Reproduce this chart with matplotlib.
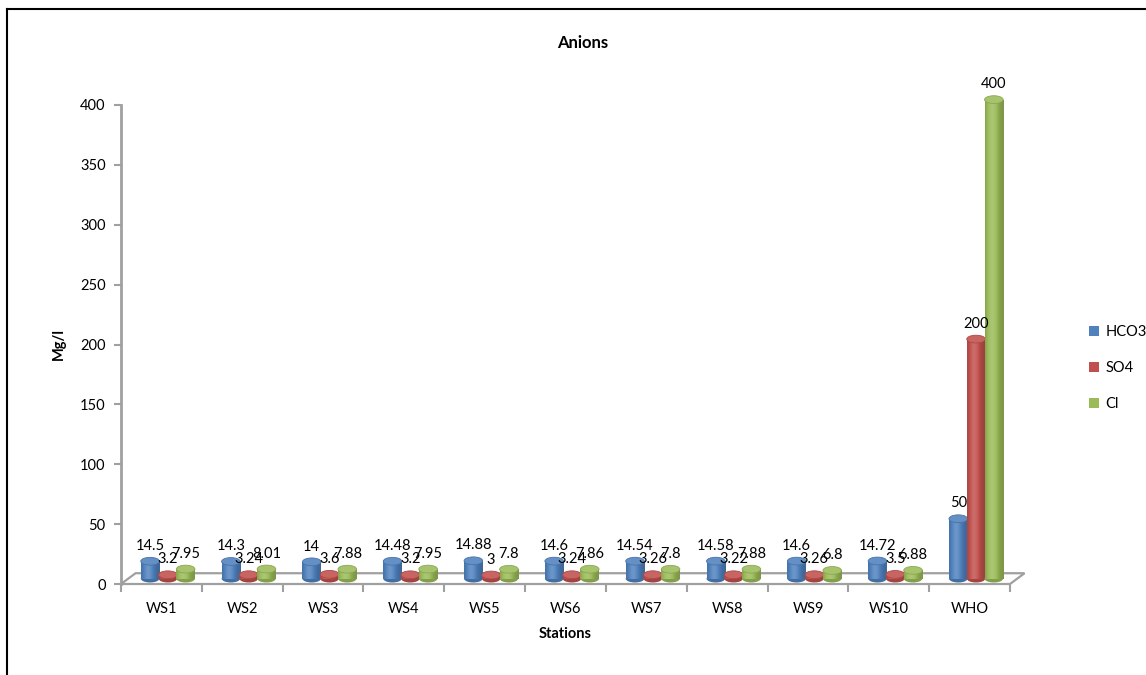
import numpy as np
import matplotlib
matplotlib.use("Agg")
import matplotlib.pyplot as plt
import matplotlib.colors as mcolors
from matplotlib.patches import Ellipse, Polygon, Patch
from matplotlib.lines import Line2D

plt.rcParams['font.family'] = ['Lato', 'DejaVu Sans']

stations = ['WS1', 'WS2', 'WS3', 'WS4', 'WS5', 'WS6', 'WS7', 'WS8', 'WS9', 'WS10', 'WHO']
hco3 = [14.5, 14.3, 14, 14.48, 14.88, 14.6, 14.54, 14.58, 14.6, 14.72, 50]
so4 = [3.2, 3.24, 3.6, 3.2, 3, 3.24, 3.26, 3.22, 3.26, 3.5, 200]
cl = [7.95, 8.01, 7.88, 7.95, 7.8, 7.86, 7.8, 7.88, 6.8, 6.88, 400]

series = [('HCO3', hco3, '#4F81BD'), ('SO4', so4, '#C0504D'), ('Cl', cl, '#9BBB59')]

W, H = 1146, 675
fig = plt.figure(figsize=(W / 100, H / 100), dpi=100)
ax = fig.add_axes([121 / W, (H - 584) / H, 889 / W, 479 / H])

# outer chart frame (only top and left edges show)
fig.add_artist(Line2D([7 / W, 7 / W], [0, 1 - 9 / H], color='black', lw=1.5))
fig.add_artist(Line2D([7 / W, 1], [1 - 9 / H, 1 - 9 / H], color='black', lw=1.5))

x = np.arange(len(stations))
bar_w = 0.23
base = 4.5      # bars stand in the middle of the floor depth
cap_h = 6.5     # height of the elliptical caps in data units
floor_dx, floor_dy = 0.18, 9.0


def cylinder(xc, h, color, z):
    rgb = np.array(mcolors.to_rgb(color))
    t = np.linspace(0, 1, 64)
    f = 0.8 + 0.38 * np.exp(-((t - 0.38) / 0.3) ** 2)
    body = np.where(f[:, None] <= 1, rgb * f[:, None],
                    rgb + (1 - rgb) * (f[:, None] - 1) * 0.9)
    body = np.clip(body, 0, 1)[None, :, :]
    x0, x1 = xc - bar_w / 2, xc + bar_w / 2
    ax.add_patch(Ellipse((xc, base), bar_w, cap_h, facecolor=rgb * 0.85,
                         edgecolor='none', zorder=z, clip_on=False))
    ax.imshow(body, extent=(x0, x1, base, base + h), aspect='auto',
              interpolation='bilinear', zorder=z + 0.1, clip_on=False)
    top = np.clip(rgb + (1 - rgb) * 0.12, 0, 1)
    ax.add_patch(Ellipse((xc, base + h), bar_w, cap_h, facecolor=top,
                         edgecolor=rgb * 0.9, lw=0.6, zorder=z + 0.2, clip_on=False))


# floor of the 3-D plot area
floor = Polygon([(-0.5, 0), (10.5, 0), (10.5 + floor_dx, floor_dy), (-0.5 + floor_dx, floor_dy)],
                closed=True, facecolor='white', edgecolor='#a0a0a0', lw=1.6, zorder=1, clip_on=False)
ax.add_patch(floor)

offsets = [-0.14, 0.08, 0.30]
for k, (name, vals, col) in enumerate(series):
    for i, v in enumerate(vals):
        xc = x[i] + offsets[k]
        cylinder(xc, v, col, 3 + k)
        ax.annotate(f'{v:g}', (xc, base + v), xytext=(0, 6), textcoords='offset points',
                    ha='center', va='bottom', fontsize=10.5, zorder=10, annotation_clip=False)

ax.set_xlim(-0.5, 10.5)
ax.set_ylim(0, 400)

ax.set_xticks(np.arange(-0.5, 11, 1))
ax.set_xticklabels([])
ax.set_xticks(x, stations, minor=True)
ax.tick_params(axis='x', which='major', length=6, width=1.5, color='#a0a0a0')
ax.tick_params(axis='x', which='minor', length=0, pad=13, labelsize=10.5)

ax.set_yticks(np.arange(0, 401, 50))
ax.tick_params(axis='y', length=5, width=1.5, color='#a0a0a0', labelsize=10.5, pad=6)

for s in ['top', 'right', 'bottom']:
    ax.spines[s].set_visible(False)
ax.spines['left'].set_color('#a0a0a0')
ax.spines['left'].set_linewidth(2)

ax.set_xlabel('Stations', fontsize=10.5, fontweight='bold', labelpad=8)
ax.set_ylabel('Mg/l', fontsize=10.5, fontweight='bold', labelpad=10)
fig.text(583 / W, 1 - 43 / H, 'Anions', ha='center', va='center', fontsize=12, fontweight='bold')

handles = [Patch(facecolor=c, edgecolor='none') for _, _, c in series]
fig.legend(handles, [n for n, _, _ in series], loc='center left',
           bbox_to_anchor=(1076 / W, 1 - 368 / H), frameon=False, fontsize=10.5,
           handlelength=0.7, handleheight=0.7, handletextpad=0.4, labelspacing=1.5)

fig.savefig('out.png', dpi=100)
